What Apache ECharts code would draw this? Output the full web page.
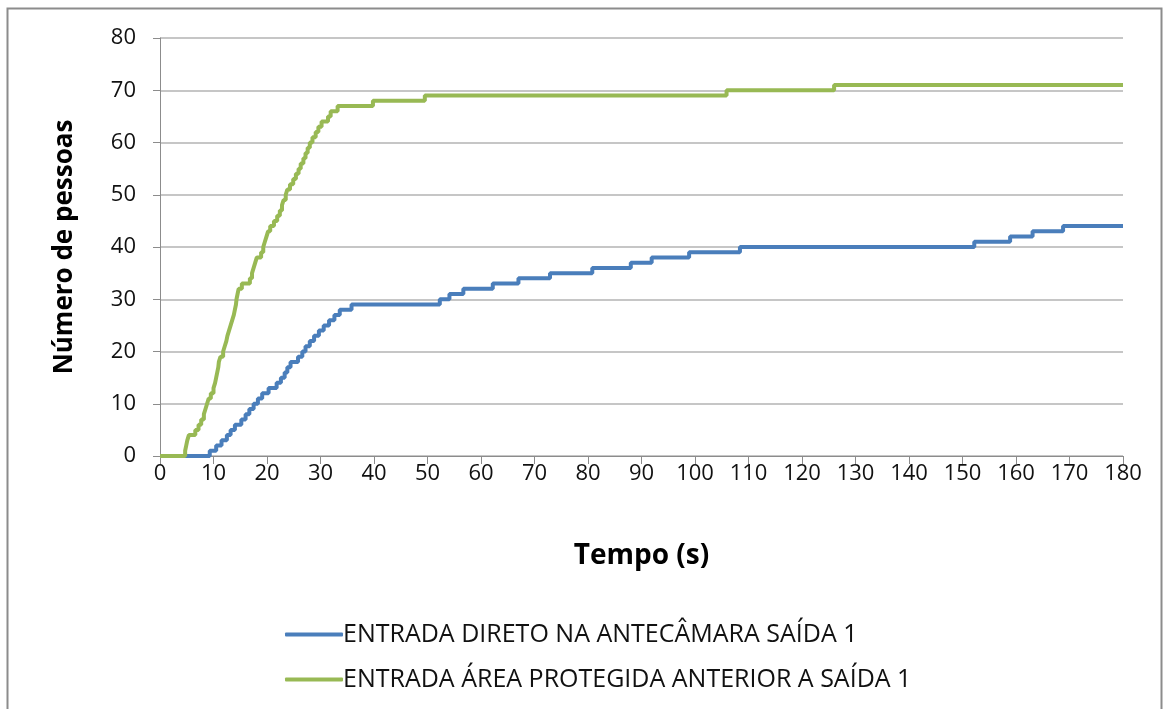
<!DOCTYPE html>
<html>
<head>
<meta charset="utf-8">
<script src="https://cdn.jsdelivr.net/npm/echarts@6/dist/echarts.min.js"></script>
<style>
  html, body { margin: 0; padding: 0; background: #ffffff; }
  #chart { width: 1168px; height: 709px; }
</style>
</head>
<body>
<div id="chart"></div>
<script>
// Cumulative number of people entering over time (s); each pair is (time, count).
const blueTimes  = [0, 9.3, 10.5, 11.5, 12.5, 13.2, 14.0, 15.2, 16.0, 16.7, 17.5, 18.3, 19.1, 20.3, 21.8,
  22.6, 23.3, 23.8, 24.4, 25.8, 26.6, 27.2, 28.0, 28.8, 29.7, 30.6, 31.6, 32.6, 33.6, 35.8,
  52.3, 54.1, 56.7, 62.2, 67.0, 72.9, 80.8, 88.0, 91.9, 98.9, 108.4, 152.2, 158.9, 163.1, 168.8, 180];
const blueCounts = [0, 1, 2, 3, 4, 5, 6, 7, 8, 9, 10, 11, 12, 13, 14,
  15, 16, 17, 18, 19, 20, 21, 22, 23, 24, 25, 26, 27, 28, 29,
  30, 31, 32, 33, 34, 35, 36, 37, 38, 39, 40, 41, 42, 43, 44, 44];

const greenTimes  = [0, 4.7, 4.9, 5.1, 5.4, 6.6, 7.2, 7.7, 8.2, 8.5, 8.8, 9.1, 9.5, 10.0, 10.3,
  10.5, 10.7, 10.9, 11.0, 11.3, 11.8, 12.1, 12.4, 12.6, 12.9, 13.2, 13.5, 13.8, 14.0, 14.2,
  14.3, 14.5, 14.7, 15.3, 16.8, 17.2, 17.5, 17.8, 18.1, 18.9, 19.3, 19.6, 19.9, 20.2, 20.6,
  21.3, 21.9, 22.4, 22.8, 23.1, 23.5, 23.8, 24.3, 24.9, 25.4, 25.9, 26.3, 26.8, 27.2, 27.6,
  28.0, 28.5, 29.1, 29.6, 30.2, 31.4, 31.9, 33.2, 39.8, 49.5, 105.9, 126.0, 180];
const greenCounts = [0, 1, 2, 3, 4, 5, 6, 7, 8, 9, 10, 11, 12, 13, 14,
  15, 16, 17, 18, 19, 20, 21, 22, 23, 24, 25, 26, 27, 28, 29,
  30, 31, 32, 33, 34, 35, 36, 37, 38, 39, 40, 41, 42, 43, 44,
  45, 46, 47, 48, 49, 50, 51, 52, 53, 54, 55, 56, 57, 58, 59,
  60, 61, 62, 63, 64, 65, 66, 67, 68, 69, 70, 71, 71];

const seriesNames = ['ENTRADA DIRETO NA ANTECÂMARA SAÍDA 1', 'ENTRADA ÁREA PROTEGIDA ANTERIOR A SAÍDA 1'];
const xTitle = 'Tempo (s)';
const yTitle = 'Número de pessoas';

function pairs(ts, vs) { return ts.map((t, i) => [t, vs[i]]); }

const FONT = '"Open Sans", "DejaVu Sans", sans-serif';
const chart = echarts.init(document.getElementById('chart'), null, { renderer: 'canvas' });

chart.setOption({
  backgroundColor: '#ffffff',
  animation: false,
  graphic: [{
    type: 'rect',
    shape: { x: 7.5, y: 8.5, width: 1154, height: 720 },
    style: { fill: 'none', stroke: '#8c8c8c', lineWidth: 2 },
    silent: true
  }],
  grid: { left: 160, top: 38, width: 963, height: 418, containLabel: false },
  xAxis: {
    type: 'value', min: 0, max: 180, interval: 10,
    name: xTitle, nameLocation: 'middle', nameGap: 86,
    nameTextStyle: { fontFamily: FONT, fontSize: 28, fontWeight: 'bold', color: '#000' },
    axisLine: { lineStyle: { color: '#8c8c8c', width: 1 } },
    axisTick: { show: true, length: 8, lineStyle: { color: '#8c8c8c' } },
    axisLabel: { fontFamily: FONT, fontSize: 22, color: '#111', margin: 7 },
    splitLine: { show: false }
  },
  yAxis: {
    type: 'value', min: 0, max: 80, interval: 10,
    name: yTitle, nameLocation: 'middle', nameGap: 82, nameRotate: 90,
    nameTextStyle: { fontFamily: FONT, fontSize: 26, fontWeight: 'bold', color: '#000' },
    axisLine: { show: true, lineStyle: { color: '#8c8c8c', width: 1 } },
    axisTick: { show: true, length: 7, lineStyle: { color: '#8c8c8c' } },
    axisLabel: { fontFamily: FONT, fontSize: 22, color: '#111', margin: 24 },
    splitLine: { show: true, lineStyle: { color: '#b3b3b3', width: 1.5 } }
  },
  legend: {
    orient: 'vertical', left: 280, top: 617,
    icon: 'roundRect', itemWidth: 58, itemHeight: 4, itemGap: 20,
    textStyle: { fontFamily: FONT, fontSize: 25, color: '#111', padding: [0, 0, 0, -5] },
    data: seriesNames
  },
  series: [
    {
      name: seriesNames[0], type: 'line', step: 'end', symbol: 'none',
      lineStyle: { color: '#4a7ebb', width: 4 }, itemStyle: { color: '#4a7ebb' },
      data: pairs(blueTimes, blueCounts)
    },
    {
      name: seriesNames[1], type: 'line', step: 'end', symbol: 'none',
      lineStyle: { color: '#98b954', width: 4 }, itemStyle: { color: '#98b954' },
      data: pairs(greenTimes, greenCounts)
    }
  ]
});
</script>
</body>
</html>
